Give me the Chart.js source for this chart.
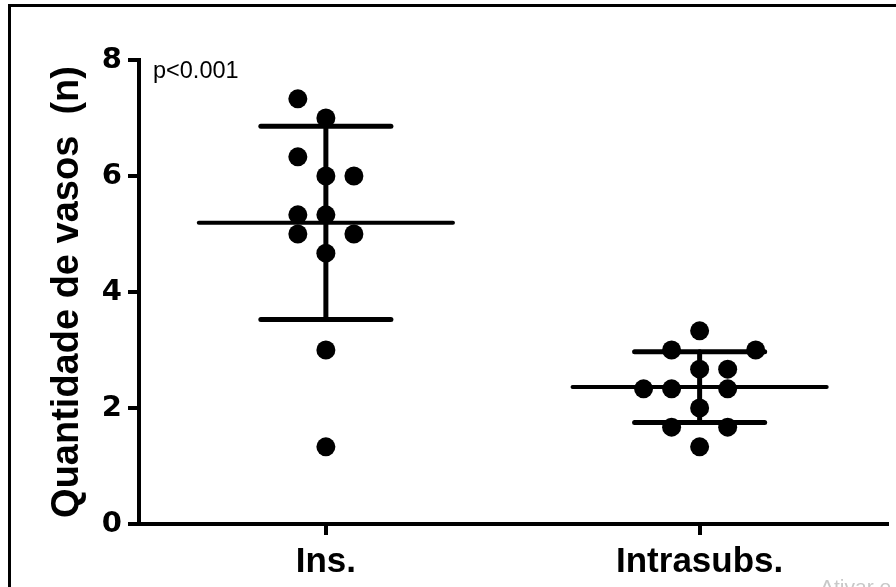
<!DOCTYPE html>
<html>
<head>
<meta charset="utf-8">
<script src="https://cdn.jsdelivr.net/npm/chart.js@4.4.0/dist/chart.umd.min.js"></script>
<style>
  body { margin: 0; background: #fff; overflow: hidden; }
  #frame { position: absolute; left: 8px; top: 4px; width: 1000px; height: 1000px; border: 3px solid #000; }
  #myChart { position: absolute; left: 0; top: 0; }
</style>
</head>
<body>
<div id="frame"></div>
<canvas id="myChart" width="896" height="587"></canvas>
<script>
// groups on the x axis
var categories = ['Ins.', 'Intrasubs.'];

// individual values (counts are in thirds)
var insValues = [7.33, 7, 6.33, 6, 6, 5.33, 5.33, 5, 5, 4.67, 3, 1.33];
var intrasubsValues = [3.33, 3, 3, 2.67, 2.67, 2.33, 2.33, 2.33, 2, 1.67, 1.67, 1.33];

// column slot of each point inside its group (scatter spreading)
var insSlots = [-1, 0, -1, 0, 1, -1, 0, -1, 1, 0, 0, 0];
var intrasubsSlots = [0, -1, 2, 0, 1, -2, -1, 1, 0, -1, 1, 0];

var yTicks = [0, 2, 4, 6, 8];
var pValueText = 'p<0.001';

var FONT = '"Liberation Sans", Arial, Helvetica, sans-serif';
var slotStep = 0.075;
var meanHalf = 0.34;
var capHalf = 0.174;

function mean(a) {
  var s = 0;
  for (var i = 0; i < a.length; i++) s += a[i];
  return s / a.length;
}
function sd(a) {
  var m = mean(a), s = 0;
  for (var i = 0; i < a.length; i++) s += (a[i] - m) * (a[i] - m);
  return Math.sqrt(s / (a.length - 1));
}

function pointsData(values, slots, pos) {
  return values.map(function (v, i) { return { x: pos + slots[i] * slotStep, y: v }; });
}

function segment(data, width) {
  return {
    data: data,
    showLine: true,
    pointRadius: 0,
    borderColor: '#000',
    borderWidth: width,
    borderCapStyle: 'round'
  };
}

// mean line, SD caps and SD whisker
function errorBars(values, pos) {
  var m = mean(values), s = sd(values);
  return [
    segment([{ x: pos - meanHalf, y: m }, { x: pos + meanHalf, y: m }], 4),
    segment([{ x: pos - capHalf, y: m + s }, { x: pos + capHalf, y: m + s }], 5),
    segment([{ x: pos - capHalf, y: m - s }, { x: pos + capHalf, y: m - s }], 5),
    segment([{ x: pos, y: m - s }, { x: pos, y: m + s }], 5)
  ];
}

var datasets = [
  { data: pointsData(insValues, insSlots, 1), pointRadius: 9.5, backgroundColor: '#000', borderColor: '#000', borderWidth: 0 },
  { data: pointsData(intrasubsValues, intrasubsSlots, 2), pointRadius: 9.5, backgroundColor: '#000', borderColor: '#000', borderWidth: 0 }
].concat(errorBars(insValues, 1), errorBars(intrasubsValues, 2));

var extraText = {
  id: 'extraText',
  afterDraw: function (chart) {
    var c = chart.ctx, area = chart.chartArea;
    c.save();
    c.fillStyle = '#000';
    c.font = '23.5px ' + FONT;
    c.textAlign = 'left';
    c.textBaseline = 'alphabetic';
    c.fillText(pValueText, area.left + 14, area.top + 18);
    c.fillStyle = '#c8c8c8';
    c.font = '21px ' + FONT;
    c.fillText('Ativar o Windows', 820, 594);
    c.restore();
  }
};

var ctx = document.getElementById('myChart').getContext('2d');

var myChart = new Chart(ctx, {
  type: 'scatter',
  data: { datasets: datasets },
  options: {
    responsive: false,
    animation: false,
    devicePixelRatio: 1,
    layout: { padding: { top: 60, right: 8, left: 0, bottom: 0 } },
    plugins: { legend: { display: false }, tooltip: { enabled: false } },
    scales: {
      x: {
        type: 'linear',
        min: 0.5,
        max: 2.5,
        afterBuildTicks: function (scale) {
          scale.ticks = categories.map(function (c, i) { return { value: i + 1 }; });
        },
        afterFit: function (scale) { scale.height = 63; },
        grid: { drawOnChartArea: false, drawTicks: true, tickLength: 11, lineWidth: 4, color: '#000' },
        border: { display: true, width: 4, color: '#000' },
        ticks: {
          color: '#000',
          padding: 6,
          maxRotation: 0,
          font: { family: FONT, size: 35, weight: 'bold' },
          callback: function (v) { return categories[v - 1]; }
        }
      },
      y: {
        min: 0,
        max: 8,
        afterBuildTicks: function (scale) {
          scale.ticks = yTicks.map(function (v) { return { value: v }; });
        },
        afterFit: function (scale) { scale.width = 139; },
        grid: { drawOnChartArea: false, drawTicks: true, tickLength: 11, lineWidth: 4, color: '#000' },
        border: { display: true, width: 4, color: '#000' },
        ticks: {
          color: '#000',
          padding: 6,
          font: { family: '"DejaVu Sans", ' + FONT, size: 29, weight: 'bold' }
        },
        title: {
          display: true,
          text: 'Quantidade de vasos  (n)',
          color: '#000',
          padding: { top: 45, bottom: 0 },
          font: { family: FONT, size: 38, weight: 'bold' }
        }
      }
    }
  },
  plugins: [extraText]
});
</script>
</body>
</html>
